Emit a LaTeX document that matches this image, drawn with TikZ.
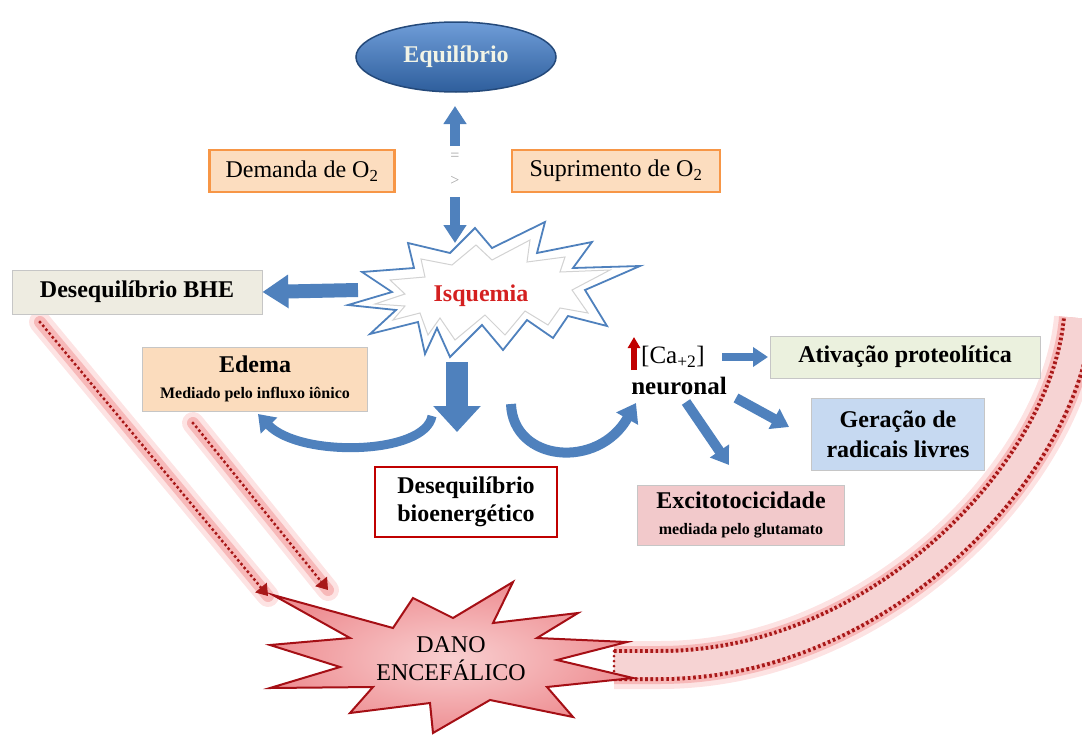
\documentclass[tikz,border=0pt]{standalone}
\usepackage{fontspec}
\setmainfont{Liberation Serif}
\usetikzlibrary{shapes.geometric,arrows.meta,calc}
\definecolor{blueA}{HTML}{4F81BD}
\definecolor{eqT}{HTML}{6F9DD8}
\definecolor{eqB}{HTML}{2E5E9C}
\definecolor{eqD}{HTML}{24497A}
\definecolor{eqTxt}{HTML}{F2F4E6}
\definecolor{orB}{HTML}{F79646}
\definecolor{orF}{HTML}{FCDDBF}
\definecolor{bheF}{HTML}{EEECE1}
\definecolor{edF}{HTML}{FBDCBD}
\definecolor{atvF}{HTML}{EBF1DE}
\definecolor{gerF}{HTML}{C6D9F1}
\definecolor{excF}{HTML}{F2C9CB}
\definecolor{bioB}{HTML}{C00000}
\definecolor{danoIn}{HTML}{F9CFD0}
\definecolor{danoOut}{HTML}{EE8F93}
\definecolor{danoB}{HTML}{A50F15}
\definecolor{glowA}{HTML}{FDE3E3}
\definecolor{glowB}{HTML}{F7B9B9}
\definecolor{dotR}{HTML}{A81818}
\definecolor{bodyF}{HTML}{F6D3D3}
\definecolor{isqR}{HTML}{D42020}
\begin{document}
\begin{tikzpicture}[x=1pt,y=-1pt,
  box/.style={rectangle, inner sep=0pt, align=center, font=\fontsize{24}{28}\selectfont, draw=gray!45, line width=0.8pt},
  orbox/.style={box, fill=orF, draw=orB, line width=2.5pt},
  barrow/.style={draw=blueA, line width=#1},
  sym/.style={font=\fontsize{16}{18}\selectfont, text=gray!70, inner sep=0pt},
  glowline/.style={line width=#1, line cap=round},
  dotarrow/.style={draw=dotR, line width=3.5pt, line cap=round, dash pattern=on 0pt off 5pt}
]
\useasboundingbox (0,0) rectangle (1082,736);

% ---------- big curved return arrow (behind everything) ----------
\begin{scope}
\clip (0,0) rectangle (1082,736);
\coordinate (bcS) at (614,665);
\coordinate (bcM) at (660,665);
\coordinate (bcE) at (1078,318);
\draw[glowA, line width=48pt] (bcS) -- (bcM) .. controls (880,665) and (1065,470) .. (bcE);
\draw[glowB, line width=38pt] (bcS) -- (bcM) .. controls (880,665) and (1065,470) .. (bcE);
\draw[dotR, line width=32pt, dash pattern=on 2.6pt off 2.6pt] (bcS) -- (bcM) .. controls (880,665) and (1065,470) .. (bcE);
\draw[bodyF, line width=24pt] (bcS) -- (bcM) .. controls (880,665) and (1065,470) .. (bcE);
\draw[dotR, line width=3pt, line cap=round, dash pattern=on 0pt off 5pt] ([yshift=14pt]bcS) -- ([yshift=-14pt]bcS);
\end{scope}

% ---------- red dotted arrows to DANO ----------
\coordinate (r1s) at (40,322);
\coordinate (r1e) at (268,596);
\coordinate (r2s) at (193,423);
\coordinate (r2e) at (328,590);
\foreach \a/\b in {r1s/r1e, r2s/r2e}{
  \draw[glowA, glowline=22pt] (\a) -- (\b);
  \draw[glowB, glowline=12pt] (\a) -- (\b);
  \draw[dotarrow, shorten >=9pt] (\a) -- (\b);
  \draw[dotR, line width=1pt, -{Triangle[length=11pt,width=15pt]}] ($(\b)!12pt!(\a)$) -- (\b);
}

% ---------- DANO star ----------
\draw[inner color=danoIn, outer color=danoOut, draw=danoB, line width=2pt, line join=miter]
  (273,595) -- (393,628) -- (413,598) -- (453,618) -- (513,582) -- (493,623)
  -- (578,613) -- (537,638) -- (627,642) -- (557,660) -- (633,678) -- (547,687)
  -- (573,717) -- (490,700) -- (433,733) -- (430,703) -- (350,713) -- (373,687)
  -- (270,688) -- (340,667) -- (270,645) -- (350,638) -- cycle;
\node[align=center, font=\fontsize{24}{28}\selectfont, inner sep=0pt] (dano) at (451,659) {DANO\\ENCEFÁLICO};

% ---------- Equilibrio ----------
\node[ellipse, minimum width=200pt, minimum height=70pt, draw=eqD, line width=1.5pt,
      top color=eqT, bottom color=eqB, text=eqTxt,
      font=\fontsize{24}{26}\selectfont\bfseries] (eq) at (456,57) {Equilíbrio};

% ---------- O2 boxes ----------
\node[orbox, minimum width=185pt, minimum height=42pt] (dem) at (302,171) {Demanda de O\textsubscript{2}};
\node[orbox, minimum width=208pt, minimum height=42pt] (sup) at (616,171) {Suprimento de O\textsubscript{2}};

\node[sym] (eqs) at (455,157) {=};
\node[sym] (gts) at (455,181) {>};

\coordinate (upS) at (455,146);
\coordinate (upE) at (455,106);
\draw[barrow=10pt, -{Triangle[length=18pt,width=22pt]}] (upS) -- (upE);
\coordinate (dnS) at (455,197);
\coordinate (dnE) at (455,243);
\draw[barrow=10pt, -{Triangle[length=18pt,width=22pt]}] (dnS) -- (dnE);

% ---------- Isquemia star ----------
\draw[fill=white, draw=blueA, line width=1.8pt, line join=miter]
  (348,305) -- (392,292) -- (362,272) -- (414,268) -- (408,243) -- (450,253)
  -- (475,228) -- (492,248) -- (545,222) -- (537,253) -- (592,242) -- (573,268)
  -- (640,266) -- (585,290) -- (607,326) -- (568,316) -- (553,338) -- (527,320)
  -- (503,350) -- (482,325) -- (450,357) -- (437,328) -- (425,354) -- (418,322)
  -- (370,334) -- (396,310) -- cycle;
\draw[gray!35, line width=1pt]
  (375,304) -- (405,294) -- (390,280) -- (425,277) -- (421,259) -- (452,265)
  -- (476,245) -- (492,260) -- (530,240) -- (527,262) -- (565,257) -- (560,272)
  -- (610,270) -- (572,290) -- (588,313) -- (560,308) -- (548,325) -- (525,311)
  -- (505,335) -- (485,315) -- (455,340) -- (440,318) -- (428,335) -- (420,313)
  -- (393,320) -- (405,306) -- cycle;
\node[font=\fontsize{24}{26}\selectfont\bfseries, text=isqR, inner sep=0pt] (isq) at (481,296) {Isquemia};

% ---------- left boxes ----------
\node[box, fill=bheF, minimum width=250pt, minimum height=44pt, font=\fontsize{24}{28}\selectfont\bfseries] (bhe) at (137,292) {Desequilíbrio BHE};
\coordinate (lS) at (358,290);
\draw[barrow=14pt, -{Triangle[length=26pt,width=32pt]}] (lS) -- (bhe.east);

% curved arrows
\coordinate (cl1) at (432,416);
\coordinate (cl2) at (258,414);
\draw[barrow=9pt, -{Triangle[length=16pt,width=22pt]}] (cl1) .. controls (425,455) and (300,458) .. (cl2);

\node[box, fill=edF, minimum width=225pt, minimum height=64pt] (edema) at (255,379)
  {{\bfseries Edema}\\[-2pt]{\fontsize{16}{18}\selectfont\bfseries Mediado pelo influxo iônico}};

\coordinate (cr1) at (511,404);
\coordinate (cr2) at (636,403);
\draw[barrow=10pt, -{Triangle[length=18pt,width=24pt]}] (cr1) .. controls (513,462) and (598,470) .. (cr2);

% thick down arrow
\coordinate (tdS) at (457,362);
\draw[barrow=22pt, -{Triangle[length=26pt,width=46pt]}] (tdS) -- (457,432) coordinate (tdE);

\node[box, fill=white, draw=bioB, line width=2.5pt, minimum width=182pt, minimum height=70pt, font=\fontsize{24}{28}\selectfont\bfseries] (bio) at (466,502) {Desequilíbrio\\bioenergético};

% ---------- calcium ----------
\coordinate (caS) at (634,370);
\coordinate (caE) at (634,337);
\draw[draw=bioB, line width=6pt, -{Triangle[length=11pt,width=12pt]}] (caS) -- (caE);
\node[font=\fontsize{25}{26}\selectfont, inner sep=0pt, anchor=west] (ca) at (641,357) {[Ca\textsubscript{+2}]};
\node[font=\fontsize{25}{26}\selectfont\bfseries, inner sep=0pt] (neu) at (679,386) {neuronal};

\node[box, fill=atvF, minimum width=270pt, minimum height=42pt, font=\fontsize{24}{28}\selectfont\bfseries] (atv) at (905,357) {Ativação proteolítica};
\node[box, fill=gerF, minimum width=173pt, minimum height=72pt, font=\fontsize{24}{30}\selectfont\bfseries] (ger) at (898,434) {Geração de\\radicais livres};
\node[box, fill=excF, minimum width=207pt, minimum height=60pt] (exc) at (741,515)
  {{\bfseries Excitotocicidade}\\[-2pt]{\fontsize{16}{18}\selectfont\bfseries mediada pelo glutamato}};

\coordinate (a1S) at (722,357);
\draw[barrow=8pt, -{Triangle[length=15pt,width=19pt]}] (a1S) -- (768,357) coordinate (a1E);
\coordinate (a2S) at (736,398);
\draw[barrow=10pt, -{Triangle[length=17pt,width=22pt]}] (a2S) -- (789,427) coordinate (a2E);
\coordinate (a3S) at (686,402);
\draw[barrow=10pt, -{Triangle[length=17pt,width=22pt]}] (a3S) -- (729,465) coordinate (a3E);
\end{tikzpicture}
\end{document}
